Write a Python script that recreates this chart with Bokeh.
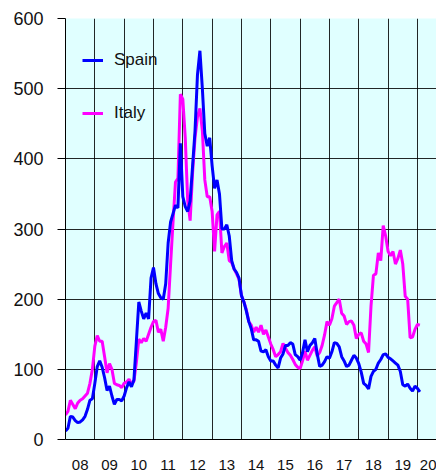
from bokeh.plotting import figure
from bokeh.models import FixedTicker, Range1d, Legend, LegendItem, ColumnDataSource
from bokeh.embed import file_html
from bokeh.resources import INLINE

# ---- data (monthly values, Jan 2008 onward) ----
start_year = 2008
spain = [12, 16, 33, 32, 27, 24, 25, 28, 33, 43, 56, 58,
         80, 104, 112, 103, 88, 70, 76, 62, 50, 57, 57, 55,
         62, 74, 82, 75, 85, 140, 196, 183, 172, 180, 172, 230,
         245, 222, 208, 202, 200, 222, 280, 310, 322, 334, 330, 422,
         346, 332, 325, 340, 390, 440, 520, 554, 500, 436, 418, 430,
         390, 358, 370, 350, 300, 300, 306, 290, 255, 243, 238, 230,
         205, 196, 183, 168, 158, 142, 142, 140, 126, 125, 128, 118,
         112, 112, 106, 102, 116, 122, 134, 134, 138, 136, 121, 118,
         113, 124, 142, 125, 134, 138, 144, 122, 104, 106, 111, 118,
         116, 125, 138, 137, 132, 118, 112, 104, 106, 113, 120, 116,
         108, 96, 80, 77, 72, 90, 97, 100, 109, 114, 121, 122,
         117, 115, 112, 109, 106, 97, 78, 76, 79, 73, 69, 76,
         73, 68]
italy = [35, 40, 56, 50, 44, 52, 56, 58, 62, 66, 80, 100,
         133, 148, 140, 140, 118, 95, 108, 100, 80, 78, 77, 74,
         80, 82, 86, 79, 83, 110, 143, 138, 144, 140, 150, 160,
         168, 170, 153, 157, 140, 160, 187, 250, 310, 367, 372, 492,
         485, 430, 340, 312, 380, 430, 460, 472, 440, 370, 346, 346,
         325, 268, 320, 325, 266, 275, 280, 255, 252, 243, 236, 228,
         205, 196, 185, 168, 163, 153, 160, 153, 163, 150, 156, 146,
         136, 128, 118, 121, 125, 137, 130, 124, 120, 114, 107, 103,
         101, 112, 126, 113, 120, 127, 132, 119, 124, 134, 149, 168,
         163, 172, 190, 195, 200, 180, 176, 164, 168, 169, 163, 144,
         150, 152, 140, 136, 124, 190, 234, 236, 266, 255, 305, 290,
         268, 262, 268, 250, 258, 270, 250, 204, 200, 145, 146, 157,
         164, 163]
year_labels = ["08", "09", "10", "11", "12", "13", "14", "15", "16",
               "17", "18", "19", "20"]
y_ticks = [0, 100, 200, 300, 400, 500, 600]
series_names = ["Spain", "Italy"]
series_colors = ["#0000FF", "#FF00FF"]

x = [start_year + m / 12 for m in range(len(spain))]
src = ColumnDataSource(dict(x=x, spain=spain, italy=italy))

years = [start_year + i for i in range(len(year_labels))]
label_pos = [y + 0.5 for y in years]

p = figure(width=436, height=472, output_backend="svg", toolbar_location=None,
           x_range=Range1d(start_year, start_year + 12.65),
           y_range=Range1d(0, 600),
           min_border_left=65, min_border_right=0, min_border_top=18,
           min_border_bottom=31)

p.background_fill_color = "#E0FFFF"
p.border_fill_color = "white"
p.outline_line_color = None

r_it = p.line("x", "italy", source=src, color=series_colors[1], line_width=3)
r_sp = p.line("x", "spain", source=src, color=series_colors[0], line_width=3)

# axes
p.xaxis.ticker = FixedTicker(ticks=label_pos)
p.xaxis.major_label_overrides = {lp: lab for lp, lab in zip(label_pos, year_labels)}
p.xaxis.major_tick_line_color = None
p.xaxis.minor_tick_line_color = None
p.xaxis.major_label_standoff = 14
p.xaxis.major_label_text_font = "Liberation Sans"
p.xaxis.major_label_text_font_size = "15px"
p.xaxis.major_label_text_color = "#111111"
p.xaxis.axis_line_color = "black"

p.yaxis.ticker = FixedTicker(ticks=y_ticks)
p.yaxis.major_tick_out = 8
p.yaxis.major_tick_in = 0
p.yaxis.major_tick_line_color = "black"
p.yaxis.minor_tick_line_color = None
p.yaxis.major_label_standoff = 14
p.yaxis.major_label_text_font = "Liberation Sans"
p.yaxis.major_label_text_font_size = "18px"
p.yaxis.major_label_text_color = "#111111"
p.yaxis.axis_line_color = "black"

# grids
p.xgrid.ticker = FixedTicker(ticks=years)
p.xgrid.grid_line_color = "black"
p.xgrid.grid_line_alpha = 0.85
p.ygrid.ticker = FixedTicker(ticks=y_ticks)
p.ygrid.grid_line_color = "black"
p.ygrid.grid_line_alpha = 0.85

legend = Legend(items=[LegendItem(label=series_names[0], renderers=[r_sp]),
                       LegendItem(label=series_names[1], renderers=[r_it])],
                location=(17, 316), margin=0, padding=0,
                label_height=20, glyph_height=20, glyph_width=21,
                spacing=33, label_standoff=11,
                label_text_font="Liberation Sans", label_text_font_size="17px",
                label_text_color="#111111",
                background_fill_alpha=0, border_line_color=None)
p.add_layout(legend)

open("out.html", "w").write(file_html(p, INLINE))
